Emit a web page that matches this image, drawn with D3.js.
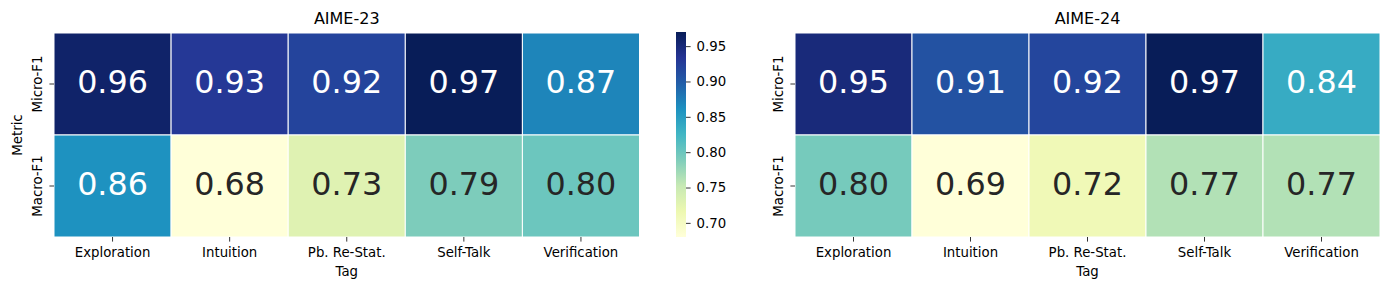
<!DOCTYPE html>
<html>
<head>
<meta charset="utf-8">
<script src="https://cdn.jsdelivr.net/npm/d3@7"></script>
<style>
  body { margin: 0; background: #fff; }
  text { font-family: "DejaVu Sans", sans-serif; }
</style>
</head>
<body>
<div id="chart"></div>
<script>
// data
var tags = ["Exploration", "Intuition", "Pb. Re-Stat.", "Self-Talk", "Verification"];
var metrics = ["Micro-F1", "Macro-F1"];
var aime23Micro = [0.96, 0.93, 0.92, 0.97, 0.87];
var aime23Macro = [0.86, 0.68, 0.73, 0.79, 0.80];
var aime24Micro = [0.95, 0.91, 0.92, 0.97, 0.84];
var aime24Macro = [0.80, 0.69, 0.72, 0.77, 0.77];
var cbarTicks = [0.70, 0.75, 0.80, 0.85, 0.90, 0.95];

// matplotlib YlGnBu stops
var ylgnbu = ["#ffffd9", "#edf8b1", "#c7e9b4", "#7fcdbb", "#41b6c4", "#1d91c0", "#225ea8", "#253494", "#081d58"];

var width = 1389, height = 290;
var svg = d3.select("#chart").append("svg")
    .attr("width", width)
    .attr("height", height);

var tickFont = 13.3;

function makeColor(values) {
    var ext = d3.extent(values);
    var dom = ylgnbu.map((c, i) => ext[0] + (ext[1] - ext[0]) * i / (ylgnbu.length - 1));
    return d3.scaleLinear().domain(dom).range(ylgnbu).interpolate(d3.interpolateRgb).clamp(true);
}

// dark text on light cells, like seaborn
function textColor(c) {
    var rgb = d3.rgb(c);
    var lin = v => { v = v / 255; return v <= 0.03928 ? v / 12.92 : Math.pow((v + 0.055) / 1.055, 2.4); };
    var lum = 0.2126 * lin(rgb.r) + 0.7152 * lin(rgb.g) + 0.0722 * lin(rgb.b);
    return lum > 0.408 ? "#262626" : "#ffffff";
}

function heatmap(x0, x1, title, micro, macro, showMetric) {
    var rows = [micro, macro];
    var cells = [];
    rows.forEach((r, i) => r.forEach((v, j) => cells.push({metric: metrics[i], tag: tags[j], value: v})));

    var color = makeColor(micro.concat(macro));
    var xScale = d3.scaleBand().domain(tags).range([x0, x1]);
    var yScale = d3.scaleBand().domain(metrics).range([33, 237]);

    var g = svg.append("g");

    g.selectAll("rect")
        .data(cells)
        .enter().append("rect")
        .attr("x", d => xScale(d.tag))
        .attr("y", d => yScale(d.metric))
        .attr("width", xScale.bandwidth())
        .attr("height", yScale.bandwidth())
        .attr("fill", d => color(d.value))
        .attr("stroke", "#fff")
        .attr("stroke-width", 1);

    // annotations
    g.selectAll("text.annot")
        .data(cells)
        .enter().append("text")
        .attr("class", "annot")
        .attr("x", d => xScale(d.tag) + xScale.bandwidth() / 2)
        .attr("y", d => yScale(d.metric) + yScale.bandwidth() / 2 + 8.8)
        .attr("text-anchor", "middle")
        .attr("font-size", "31.8px")
        .attr("fill", d => textColor(color(d.value)))
        .text(d => d3.format(".2f")(d.value));

    // x axis
    var xAxis = g.append("g")
        .attr("transform", "translate(0,237)")
        .call(d3.axisBottom(xScale).tickSize(4.6).tickPadding(6));
    xAxis.select(".domain").remove();
    xAxis.selectAll("text").attr("font-size", tickFont + "px").attr("fill", "#000").attr("font-family", "DejaVu Sans");
    xAxis.selectAll("line").attr("stroke", "#000").attr("stroke-width", 0.8);

    // y axis, labels rotated
    var yAxis = g.append("g")
        .attr("transform", "translate(" + x0 + ",0)")
        .call(d3.axisLeft(yScale).tickSize(4.6).tickPadding(4));
    yAxis.select(".domain").remove();
    yAxis.selectAll("line").attr("stroke", "#000").attr("stroke-width", 0.8);
    yAxis.selectAll("text")
        .attr("font-size", tickFont + "px")
        .attr("fill", "#000")
        .attr("font-family", "DejaVu Sans")
        .attr("text-anchor", "middle")
        .attr("dy", 0)
        .attr("x", 0)
        .attr("transform", "translate(-11.7,0) rotate(-90)");

    // title
    g.append("text")
        .attr("x", (x0 + x1) / 2)
        .attr("y", 24)
        .attr("text-anchor", "middle")
        .attr("font-size", "16px")
        .text(title);

    g.append("text")
        .attr("x", (x0 + x1) / 2)
        .attr("y", 276.4)
        .attr("text-anchor", "middle")
        .attr("font-size", tickFont + "px")
        .text("Tag");

    if (showMetric) {
        g.append("text")
            .attr("transform", "translate(22,135) rotate(-90)")
            .attr("text-anchor", "middle")
            .attr("font-size", tickFont + "px")
            .text("Metric");
    }
    return color;
}

heatmap(54, 639.5, "AIME-23", aime23Micro, aime23Macro, true);
heatmap(795, 1380, "AIME-24", aime24Micro, aime24Macro, false);

// colorbar for the left panel
var cbDomain = d3.extent(aime23Micro.concat(aime23Macro));
var cbY = d3.scaleLinear().domain(cbDomain).range([237, 32]);
var defs = svg.append("defs");
var grad = defs.append("linearGradient")
    .attr("id", "cbgrad")
    .attr("x1", 0).attr("y1", 1).attr("x2", 0).attr("y2", 0);
ylgnbu.forEach((c, i) => {
    grad.append("stop")
        .attr("offset", (i / (ylgnbu.length - 1) * 100) + "%")
        .attr("stop-color", c);
});
svg.append("rect")
    .attr("x", 676)
    .attr("y", cbY(cbDomain[1]))
    .attr("width", 10)
    .attr("height", cbY(cbDomain[0]) - cbY(cbDomain[1]))
    .attr("fill", "url(#cbgrad)");

var cbAxis = svg.append("g")
    .attr("transform", "translate(686,0)")
    .call(d3.axisRight(cbY).tickValues(cbarTicks).tickFormat(d3.format(".2f")).tickSize(4.6).tickPadding(6));
cbAxis.select(".domain").remove();
cbAxis.selectAll("line").attr("stroke", "#000").attr("stroke-width", 0.8);
cbAxis.selectAll("text").attr("font-size", tickFont + "px").attr("fill", "#000").attr("font-family", "DejaVu Sans");
</script>
</body>
</html>
